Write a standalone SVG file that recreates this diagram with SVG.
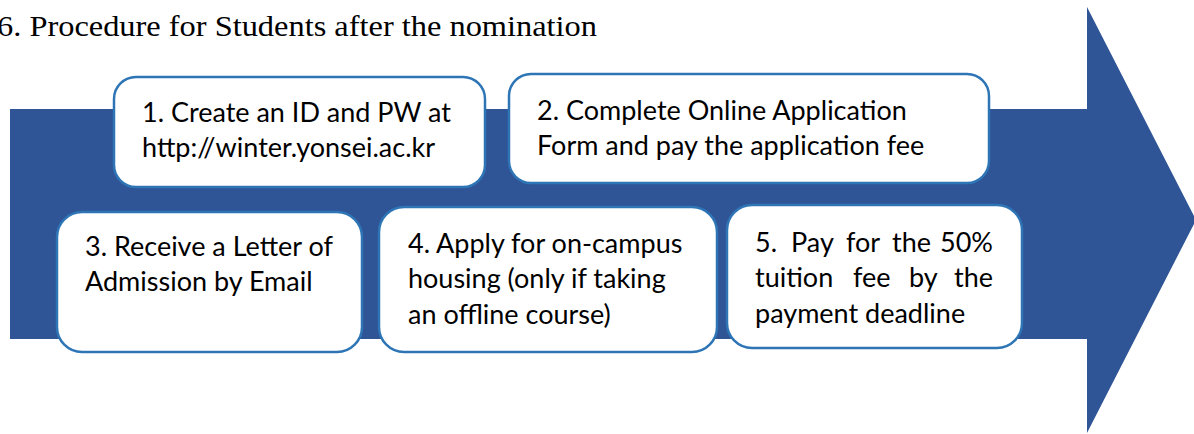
<svg xmlns="http://www.w3.org/2000/svg" width="1194" height="434" viewBox="0 0 1194 434">
<style>
.box{fill:#ffffff;stroke:#2E75B6;stroke-width:2.5}
.t{font-family:Lato,"Open Sans","Liberation Sans",sans-serif;font-size:27px;fill:#000000}
.title{font-family:"Liberation Serif",serif;font-size:30px;fill:#000000}
</style>
<rect width="1194" height="434" fill="#ffffff"/>
<text class="title" x="-3" y="36" textLength="600" lengthAdjust="spacingAndGlyphs">6. Procedure for Students after the nomination</text>
<g id="connectors">
<polygon id="flow-arrow" points="10,109 1087,109 1087,7 1196,220 1087,433 1087,339 10,339" fill="#2F5597"/>
</g>
<g id="step1">
<rect class="box" x="114" y="77" width="371" height="110" rx="22"/>
<text class="t" x="142" y="122">1. Create an ID and PW at</text>
<text class="t" x="142" y="157">http://winter.yonsei.ac.kr</text>
</g>
<g id="step2">
<rect class="box" x="509" y="74" width="480" height="109" rx="22"/>
<text class="t" x="537" y="120">2. Complete Online Application</text>
<text class="t" x="537" y="155">Form and pay the application fee</text>
</g>
<g id="step3">
<rect class="box" x="57" y="212" width="305" height="140" rx="25"/>
<text class="t" x="85" y="256">3. Receive a Letter of</text>
<text class="t" x="85" y="291">Admission by Email</text>
</g>
<g id="step4">
<rect class="box" x="379" y="207" width="338" height="145" rx="25"/>
<text class="t" x="408" y="253">4. Apply for on-campus</text>
<text class="t" x="408" y="288">housing (only if taking</text>
<text class="t" x="408" y="324">an offline course)</text>
</g>
<g id="step5">
<rect class="box" x="727" y="205" width="295" height="143" rx="25"/>
<text class="t" y="252"><tspan x="755">5.</tspan> <tspan x="791">Pay</tspan> <tspan x="846">for</tspan> <tspan x="892">the</tspan> <tspan x="993" text-anchor="end">50%</tspan></text>
<text class="t" y="287"><tspan x="755">tuition</tspan> <tspan x="853">fee</tspan> <tspan x="909">by</tspan> <tspan x="993" text-anchor="end">the</tspan></text>
<text class="t" x="755" y="323">payment deadline</text>
</g>
</svg>
